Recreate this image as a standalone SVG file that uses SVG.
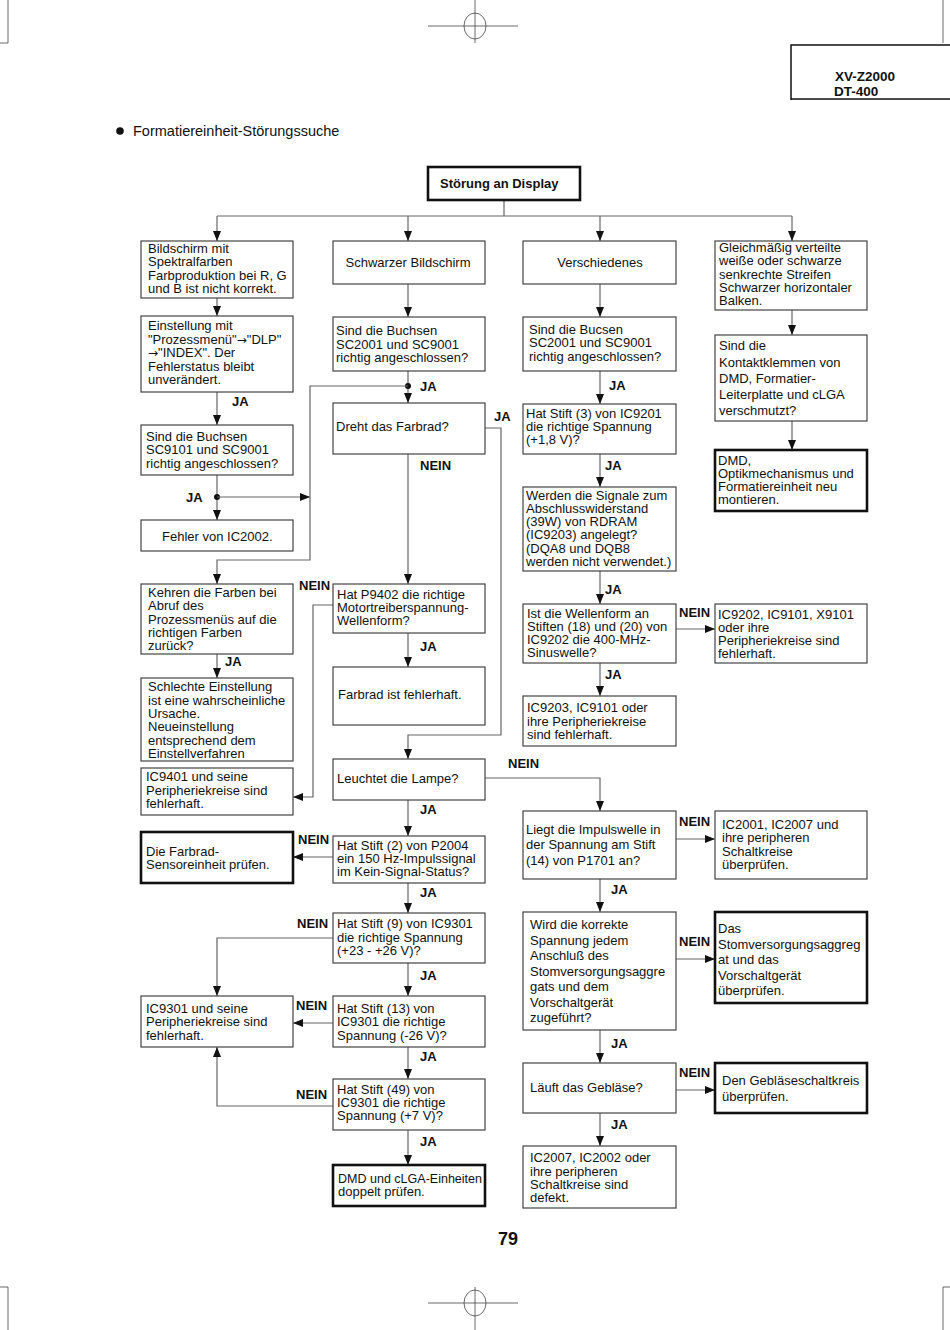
<svg xmlns="http://www.w3.org/2000/svg" width="950" height="1330" viewBox="0 0 950 1330">
<defs>
<marker id="ah" markerUnits="userSpaceOnUse" markerWidth="10" markerHeight="10" viewBox="0 0 10 10" refX="10" refY="5" orient="auto">
<path d="M0,1 L10,5 L0,9 Z" fill="#111"/>
</marker>
</defs>
<style>
text{font-family:"Liberation Sans",Arial,sans-serif;font-size:13px;fill:#111}
.b{font-weight:bold}
.lbl{font-weight:bold;font-size:13px}
.arw{font-family:"DejaVu Sans",sans-serif;font-size:12px}
.box{fill:#fff;stroke:#444;stroke-width:1.2}
.tbox{fill:#fff;stroke:#111;stroke-width:2.6}
.ln{fill:none;stroke:#666;stroke-width:1.2}
.ar{fill:none;stroke:#666;stroke-width:1.2;marker-end:url(#ah)}
.reg{fill:none;stroke:#444;stroke-width:0.8}
</style>
<rect width="950" height="1330" fill="#fff"/>

<!-- page marks -->
<g id="marks">
<line class="reg" x1="475" y1="0" x2="475" y2="43"/>
<line class="reg" x1="428" y1="26" x2="518" y2="26"/>
<ellipse class="reg" cx="475" cy="26" rx="11" ry="13"/>
<polyline class="reg" points="8,0 8,43 0,43"/>
<line class="reg" x1="943" y1="0" x2="943" y2="43"/>
<line class="reg" x1="475" y1="1287" x2="475" y2="1330"/>
<line class="reg" x1="428" y1="1303" x2="518" y2="1303"/>
<ellipse class="reg" cx="475" cy="1303" rx="11" ry="13"/>
<polyline class="reg" points="0,1287 8,1287 8,1330"/>
<polyline class="reg" points="950,1287 943,1287 943,1330"/>
</g>

<g id="header">
<polyline points="791,100 791,45 950,45" fill="none" stroke="#111" stroke-width="1.5"/>
<line x1="791" y1="99" x2="950" y2="99" stroke="#111" stroke-width="1.5"/>
<text class="b" x="835" y="81" style="font-size:13.5px">XV-Z2000</text>
<text class="b" x="834" y="96" style="font-size:13.5px">DT-400</text>
</g>

<g id="title">
<circle cx="120" cy="131" r="3.8" fill="#111"/>
<text x="133" y="136" style="font-size:14.5px">Formatiereinheit-Störungssuche</text>
</g>

<!-- connectors -->
<g id="connectors">
<polyline class="ln" points="504,200 504,216"/>
<line class="ln" x1="217" y1="216" x2="792" y2="216"/>
<line class="ar" x1="217" y1="216" x2="217" y2="241"/>
<line class="ar" x1="408" y1="216" x2="408" y2="241"/>
<line class="ar" x1="600" y1="216" x2="600" y2="241"/>
<line class="ar" x1="792" y1="216" x2="792" y2="241"/>

<!-- col 1 -->
<line class="ar" x1="217" y1="298" x2="217" y2="316"/>
<line class="ar" x1="217" y1="392" x2="217" y2="425"/>
<line class="ar" x1="217" y1="475" x2="217" y2="520"/>
<circle cx="217" cy="497" r="3" fill="#111"/>
<line class="ar" x1="217" y1="497" x2="310" y2="497"/>
<line class="ar" x1="217" y1="654" x2="217" y2="678"/>

<!-- col 2 -->
<line class="ar" x1="408" y1="284" x2="408" y2="317"/>
<line class="ar" x1="408" y1="371" x2="408" y2="403"/>
<circle cx="408" cy="386" r="3" fill="#111"/>
<polyline class="ar" points="408,386 310,386 310,560 217,560 217,584"/>
<polyline class="ar" points="485,428 501,428 501,735 408,735 408,759"/>
<line class="ar" x1="408" y1="454" x2="408" y2="584"/>
<polyline class="ar" points="333,605 313,605 313,797 293,797"/>
<line class="ar" x1="408" y1="633" x2="408" y2="667"/>
<polyline class="ar" points="485,778 600,778 600,811"/>
<line class="ar" x1="408" y1="800" x2="408" y2="836"/>
<line class="ar" x1="333" y1="857" x2="293" y2="857"/>
<line class="ar" x1="408" y1="883" x2="408" y2="913"/>
<polyline class="ar" points="333,938 217,938 217,996"/>
<line class="ar" x1="408" y1="963" x2="408" y2="996"/>
<line class="ar" x1="333" y1="1023" x2="293" y2="1023"/>
<line class="ar" x1="408" y1="1047" x2="408" y2="1079"/>
<polyline class="ar" points="333,1106 217,1106 217,1047"/>
<line class="ar" x1="408" y1="1130" x2="408" y2="1165"/>

<!-- col 3 -->
<line class="ar" x1="600" y1="284" x2="600" y2="317"/>
<line class="ar" x1="600" y1="371" x2="600" y2="404"/>
<line class="ar" x1="600" y1="454" x2="600" y2="487"/>
<line class="ar" x1="600" y1="571" x2="600" y2="604"/>
<line class="ar" x1="676" y1="629" x2="715" y2="629"/>
<line class="ar" x1="600" y1="663" x2="600" y2="696"/>
<line class="ar" x1="676" y1="839" x2="715" y2="839"/>
<line class="ar" x1="600" y1="879" x2="600" y2="912"/>
<line class="ar" x1="676" y1="959" x2="715" y2="959"/>
<line class="ar" x1="600" y1="1030" x2="600" y2="1063"/>
<line class="ar" x1="676" y1="1090" x2="715" y2="1090"/>
<line class="ar" x1="600" y1="1113" x2="600" y2="1146"/>

<!-- col 4 -->
<line class="ar" x1="792" y1="310" x2="792" y2="335"/>
<line class="ar" x1="792" y1="421" x2="792" y2="450"/>

<!-- labels -->
<text class="lbl" x="232" y="406">JA</text>
<text class="lbl" x="186" y="502">JA</text>
<text class="lbl" x="225" y="666">JA</text>
<text class="lbl" x="420" y="391">JA</text>
<text class="lbl" x="494" y="421">JA</text>
<text class="lbl" x="420" y="470">NEIN</text>
<text class="lbl" x="299" y="590">NEIN</text>
<text class="lbl" x="420" y="651">JA</text>
<text class="lbl" x="508" y="768">NEIN</text>
<text class="lbl" x="420" y="814">JA</text>
<text class="lbl" x="298" y="844">NEIN</text>
<text class="lbl" x="420" y="897">JA</text>
<text class="lbl" x="297" y="928">NEIN</text>
<text class="lbl" x="420" y="980">JA</text>
<text class="lbl" x="296" y="1010">NEIN</text>
<text class="lbl" x="420" y="1061">JA</text>
<text class="lbl" x="296" y="1099">NEIN</text>
<text class="lbl" x="420" y="1146">JA</text>
<text class="lbl" x="609" y="390">JA</text>
<text class="lbl" x="605" y="470">JA</text>
<text class="lbl" x="605" y="594">JA</text>
<text class="lbl" x="679" y="617">NEIN</text>
<text class="lbl" x="605" y="679">JA</text>
<text class="lbl" x="679" y="826">NEIN</text>
<text class="lbl" x="611" y="894">JA</text>
<text class="lbl" x="679" y="946">NEIN</text>
<text class="lbl" x="611" y="1048">JA</text>
<text class="lbl" x="679" y="1077">NEIN</text>
<text class="lbl" x="611" y="1129">JA</text>
</g>

<!-- nodes -->
<g id="n-start"><rect class="tbox" x="428" y="167" width="152" height="33"/><text class="b" x="440" y="188">Störung an Display</text></g>

<g id="n-c1a"><rect class="box" x="141" y="241" width="152" height="57"/>
<text x="148" y="253">Bildschirm mit</text><text x="148" y="266">Spektralfarben</text><text x="148" y="280">Farbproduktion bei R, G</text><text x="148" y="293">und B ist nicht korrekt.</text></g>

<g id="n-c1b"><rect class="box" x="141" y="316" width="152" height="76"/>
<text x="148" y="330">Einstellung mit</text><text x="148" y="344">"Prozessmenü"<tspan class="arw">→</tspan>"DLP"</text><text x="148" y="357"><tspan class="arw">→</tspan>"INDEX". Der</text><text x="148" y="371">Fehlerstatus bleibt</text><text x="148" y="384">unverändert.</text></g>

<g id="n-c1c"><rect class="box" x="141" y="425" width="152" height="50"/>
<text x="146" y="441">Sind die Buchsen</text><text x="146" y="454">SC9101 und SC9001</text><text x="146" y="468">richtig angeschlossen?</text></g>

<g id="n-c1d"><rect class="box" x="141" y="520" width="152" height="31"/>
<text x="162" y="541">Fehler von IC2002.</text></g>

<g id="n-c1e"><rect class="box" x="141" y="584" width="152" height="70"/>
<text x="148" y="597">Kehren die Farben bei</text><text x="148" y="610">Abruf des</text><text x="148" y="624">Prozessmenüs auf die</text><text x="148" y="637">richtigen Farben</text><text x="148" y="650">zurück?</text></g>

<g id="n-c1f"><rect class="box" x="141" y="678" width="152" height="83"/>
<text x="148" y="691">Schlechte Einstellung</text><text x="148" y="705">ist eine wahrscheinliche</text><text x="148" y="718">Ursache.</text><text x="148" y="731">Neueinstellung</text><text x="148" y="745">entsprechend dem</text><text x="148" y="758">Einstellverfahren</text></g>

<g id="n-c1g"><rect class="box" x="141" y="768" width="152" height="47"/>
<text x="146" y="781">IC9401 und seine</text><text x="146" y="795">Peripheriekreise sind</text><text x="146" y="808">fehlerhaft.</text></g>

<g id="n-c1h"><rect class="tbox" x="141" y="832" width="152" height="51"/>
<text x="146" y="856">Die Farbrad-</text><text x="146" y="869">Sensoreinheit prüfen.</text></g>

<g id="n-c1i"><rect class="box" x="141" y="996" width="152" height="51"/>
<text x="146" y="1013">IC9301 und seine</text><text x="146" y="1026">Peripheriekreise sind</text><text x="146" y="1040">fehlerhaft.</text></g>

<g id="n-c2a"><rect class="box" x="333" y="241" width="152" height="43"/>
<text x="408" y="267" text-anchor="middle">Schwarzer Bildschirm</text></g>

<g id="n-c2b"><rect class="box" x="333" y="317" width="152" height="54"/>
<text x="336" y="335">Sind die Buchsen</text><text x="336" y="349">SC2001 und SC9001</text><text x="336" y="362">richtig angeschlossen?</text></g>

<g id="n-c2c"><rect class="box" x="333" y="403" width="152" height="51"/>
<text x="336" y="431">Dreht das Farbrad?</text></g>

<g id="n-c2d"><rect class="box" x="333" y="584" width="152" height="49"/>
<text x="337" y="599">Hat P9402 die richtige</text><text x="337" y="612">Motortreiberspannung-</text><text x="337" y="625">Wellenform?</text></g>

<g id="n-c2e"><rect class="box" x="333" y="667" width="152" height="58"/>
<text x="338" y="699">Farbrad ist fehlerhaft.</text></g>

<g id="n-c2f"><rect class="box" x="333" y="759" width="152" height="41"/>
<text x="337" y="783">Leuchtet die Lampe?</text></g>

<g id="n-c2g"><rect class="box" x="333" y="836" width="152" height="47"/>
<text x="337" y="850">Hat Stift (2) von P2004</text><text x="337" y="863">ein 150 Hz-Impulssignal</text><text x="337" y="876">im Kein-Signal-Status?</text></g>

<g id="n-c2h"><rect class="box" x="333" y="913" width="152" height="50"/>
<text x="337" y="928">Hat Stift (9) von IC9301</text><text x="337" y="942">die richtige Spannung</text><text x="337" y="955">(+23 - +26 V)?</text></g>

<g id="n-c2i"><rect class="box" x="333" y="996" width="152" height="51"/>
<text x="337" y="1013">Hat Stift (13) von</text><text x="337" y="1026">IC9301 die richtige</text><text x="337" y="1040">Spannung (-26 V)?</text></g>

<g id="n-c2j"><rect class="box" x="333" y="1079" width="152" height="51"/>
<text x="337" y="1094">Hat Stift (49) von</text><text x="337" y="1107">IC9301 die richtige</text><text x="337" y="1120">Spannung (+7 V)?</text></g>

<g id="n-c2k"><rect class="tbox" x="333" y="1165" width="152" height="41"/>
<text x="338" y="1183" textLength="144" lengthAdjust="spacingAndGlyphs">DMD und cLGA-Einheiten</text><text x="338" y="1196">doppelt prüfen.</text></g>

<g id="n-c3a"><rect class="box" x="523" y="241" width="153" height="43"/>
<text x="600" y="267" text-anchor="middle">Verschiedenes</text></g>

<g id="n-c3b"><rect class="box" x="523" y="317" width="153" height="54"/>
<text x="529" y="334">Sind die Bucsen</text><text x="529" y="347">SC2001 und SC9001</text><text x="529" y="361">richtig angeschlossen?</text></g>

<g id="n-c3c"><rect class="box" x="523" y="404" width="153" height="50"/>
<text x="526" y="418">Hat Stift (3) von IC9201</text><text x="526" y="431">die richtige Spannung</text><text x="526" y="444">(+1,8 V)?</text></g>

<g id="n-c3d"><rect class="box" x="523" y="487" width="153" height="84"/>
<text x="526" y="500">Werden die Signale zum</text><text x="526" y="513">Abschlusswiderstand</text><text x="526" y="526">(39W) von RDRAM</text><text x="526" y="539">(IC9203) angelegt?</text><text x="526" y="553">(DQA8 und DQB8</text><text x="526" y="566">werden nicht verwendet.)</text></g>

<g id="n-c3e"><rect class="box" x="523" y="604" width="153" height="59"/>
<text x="527" y="618">Ist die Wellenform an</text><text x="527" y="631">Stiften (18) und (20) von</text><text x="527" y="644">IC9202 die 400-MHz-</text><text x="527" y="657">Sinuswelle?</text></g>

<g id="n-c3f"><rect class="box" x="523" y="696" width="153" height="50"/>
<text x="527" y="712">IC9203, IC9101 oder</text><text x="527" y="726">ihre Peripheriekreise</text><text x="527" y="739">sind fehlerhaft.</text></g>

<g id="n-c3g"><rect class="box" x="523" y="811" width="153" height="68"/>
<text x="526" y="834">Liegt die Impulswelle in</text><text x="526" y="849">der Spannung am Stift</text><text x="526" y="865">(14) von P1701 an?</text></g>

<g id="n-c3h"><rect class="box" x="523" y="912" width="153" height="118"/>
<text x="530" y="929">Wird die korrekte</text><text x="530" y="945">Spannung jedem</text><text x="530" y="960">Anschluß des</text><text x="530" y="976">Stomversorgungsaggre</text><text x="530" y="991">gats und dem</text><text x="530" y="1007">Vorschaltgerät</text><text x="530" y="1022">zugeführt?</text></g>

<g id="n-c3i"><rect class="box" x="523" y="1063" width="153" height="50"/>
<text x="530" y="1092">Läuft das Gebläse?</text></g>

<g id="n-c3j"><rect class="box" x="523" y="1146" width="153" height="62"/>
<text x="530" y="1162">IC2007, IC2002 oder</text><text x="530" y="1176">ihre peripheren</text><text x="530" y="1189">Schaltkreise sind</text><text x="530" y="1202">defekt.</text></g>

<g id="n-c4a"><rect class="box" x="715" y="241" width="152" height="69"/>
<text x="719" y="252">Gleichmäßig verteilte</text><text x="719" y="265">weiße oder schwarze</text><text x="719" y="279">senkrechte Streifen</text><text x="719" y="292">Schwarzer horizontaler</text><text x="719" y="305">Balken.</text></g>

<g id="n-c4b"><rect class="box" x="715" y="335" width="152" height="86"/>
<text x="719" y="350">Sind die</text><text x="719" y="367">Kontaktklemmen von</text><text x="719" y="383">DMD, Formatier-</text><text x="719" y="399">Leiterplatte und cLGA</text><text x="719" y="415">verschmutzt?</text></g>

<g id="n-c4c"><rect class="tbox" x="715" y="450" width="152" height="61"/>
<text x="718" y="465">DMD,</text><text x="718" y="478">Optikmechanismus und</text><text x="718" y="491">Formatiereinheit neu</text><text x="718" y="504">montieren.</text></g>

<g id="n-c4d"><rect class="box" x="715" y="604" width="152" height="59"/>
<text x="718" y="619">IC9202, IC9101, X9101</text><text x="718" y="632">oder ihre</text><text x="718" y="645">Peripheriekreise sind</text><text x="718" y="658">fehlerhaft.</text></g>

<g id="n-c4e"><rect class="box" x="715" y="811" width="152" height="68"/>
<text x="722" y="829">IC2001, IC2007 und</text><text x="722" y="842">ihre peripheren</text><text x="722" y="856">Schaltkreise</text><text x="722" y="869">überprüfen.</text></g>

<g id="n-c4f"><rect class="tbox" x="715" y="912" width="152" height="91"/>
<text x="718" y="933">Das</text><text x="718" y="949">Stomversorgungsaggreg</text><text x="718" y="964">at und das</text><text x="718" y="980">Vorschaltgerät</text><text x="718" y="995">überprüfen.</text></g>

<g id="n-c4g"><rect class="tbox" x="715" y="1063" width="152" height="50"/>
<text x="722" y="1085">Den Gebläseschaltkreis</text><text x="722" y="1101">überprüfen.</text></g>

<g id="pagenum"><text class="b" x="508" y="1245" text-anchor="middle" style="font-size:18px">79</text></g>
</svg>
